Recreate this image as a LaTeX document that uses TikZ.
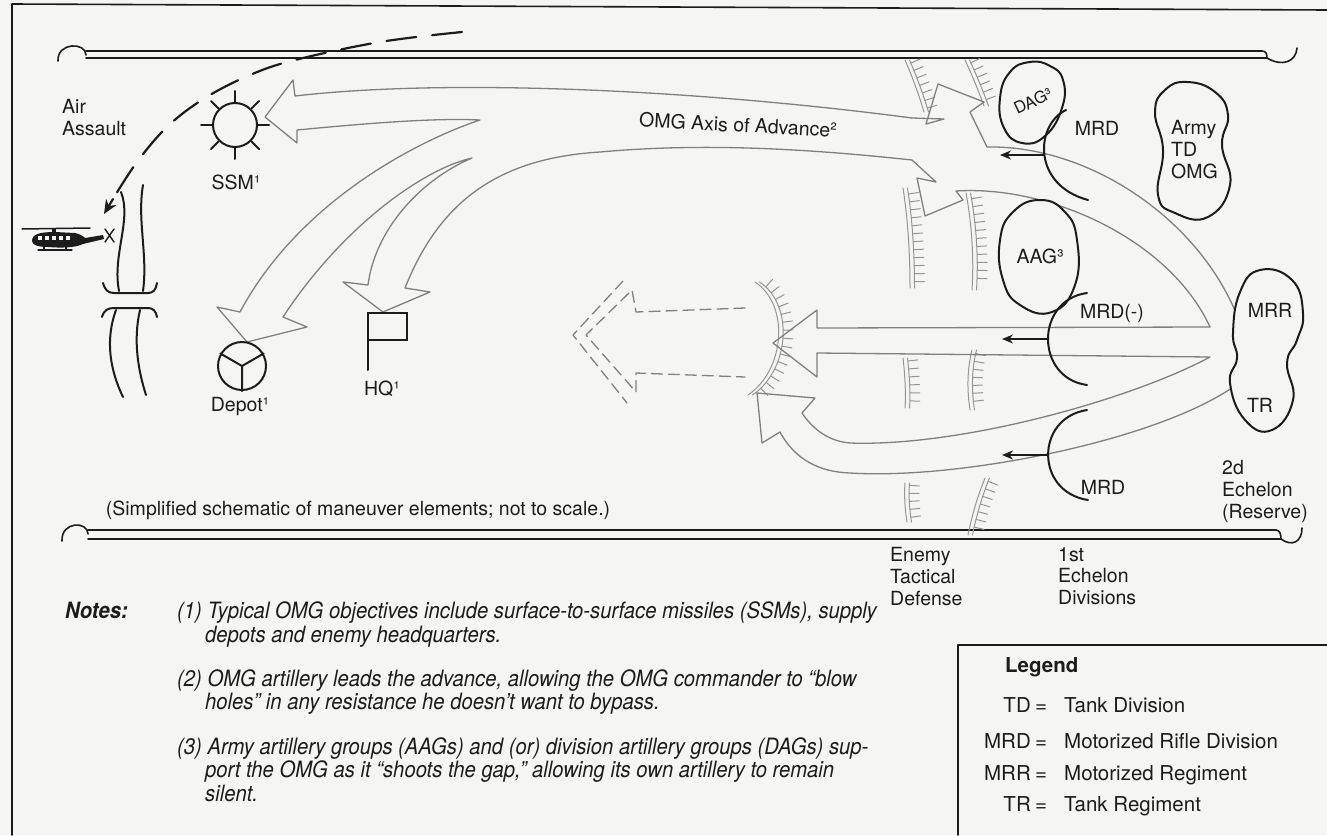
\documentclass[tikz,border=0pt]{standalone}
\usepackage{fontspec}
\setmainfont{TeX Gyre Heros}
\newfontfamily\notefont[FakeStretch=0.9]{TeX Gyre Heros}
\usetikzlibrary{arrows.meta,decorations.markings}

\definecolor{paper}{RGB}{245,245,244}
\definecolor{ink}{RGB}{28,28,28}
\definecolor{omggrey}{RGB}{128,128,128}
\definecolor{defgrey}{RGB}{150,150,150}

\newcommand{\lblfont}{\fontsize{19.5}{21.8}\selectfont}
\newcommand{\legfont}{\fontsize{20.5}{24}\selectfont}
\newcommand{\notesfont}{\notefont\itshape\fontsize{22.5}{23}\selectfont}

% double defence line with ticks on its right
\newcommand{\defseg}[4]{%
  \draw[defl] #1 .. controls #2 and #3 .. #4;
  \begin{scope}[xshift=4.5pt]
    \draw[defl, ticked] #1 .. controls #2 and #3 .. #4;
  \end{scope}}

\tikzset{
  omg/.style={draw=omggrey, line width=1.3pt},
  omgdash/.style={omg, dash pattern=on 11pt off 6pt},
  defl/.style={draw=defgrey, line width=1pt},
  ticked/.style={postaction={decorate, decoration={markings,
      mark=between positions 0.06 and 0.96 step 8pt with
      {\draw[defgrey, line width=1pt] (0pt,0pt) -- (0pt,10pt);}}}},
  unit/.style={draw=ink, line width=2pt, fill=paper},
  sym/.style={draw=ink, line width=2pt},
  thrust/.style={draw=ink, line width=2pt, -{Stealth[length=11pt, width=9pt]}},
  border/.style={draw=ink, line width=1.6pt},
  lbl/.style={font=\lblfont, text=ink, inner sep=0pt},
  leg/.style={font=\legfont, text=ink, inner sep=0pt},
  note/.style={font=\notesfont, text=ink, inner sep=0pt, anchor=base west}
}

\begin{document}
\begin{tikzpicture}[x=1pt, y=-1pt, line cap=round, line join=round]
\useasboundingbox (0,0) rectangle (1327,835);
\fill[paper] (0,0) rectangle (1327,835);

% frame and legend box
\draw[border] (12,835) -- (12,4) -- (1327,10);
\draw[border] (958,835) -- (958,645) -- (1327,645);

% boundaries
\draw[border] (58,61) .. controls (57,42) and (86,42) .. (86,55);
\draw[border] (86,51) -- (1262,51) .. controls (1266,51) and (1267,54) .. (1267,58);
\draw[border] (86,58) -- (1267,58) .. controls (1282,67) and (1296,62) .. (1297,48);
\draw[border] (62,541) .. controls (61,521) and (88,521) .. (88,534);
\draw[border] (88,530) -- (1276,530) .. controls (1280,530) and (1281,535) .. (1281,539);
\draw[border] (88,539) -- (1281,539) .. controls (1292,547) and (1302,542) .. (1302,528);

% defence lines
\defseg{(905,60)}{(912,76)}{(919,95)}{(924,112)}
\defseg{(965,60)}{(972,75)}{(979,92)}{(984,106)}
\defseg{(903,188)}{(908,220)}{(910,255)}{(910,288)}
\defseg{(966,193)}{(972,225)}{(974,260)}{(972,290)}
\defseg{(903,358)}{(905,375)}{(906,395)}{(905,408)}
\defseg{(972,350)}{(967,370)}{(967,390)}{(970,410)}
\defseg{(905,483)}{(904,495)}{(905,510)}{(907,522)}
\defseg{(985,478)}{(978,495)}{(972,515)}{(968,535)}
% breach
\defseg{(755,282)}{(790,305)}{(785,370)}{(748,395)}

% OMG axis of advance, left prongs
\draw[omg] (912,118) .. controls (700,90) and (450,78) .. (295,96)
  -- (293,80) -- (265,117) -- (297,143) -- (297,130)
  .. controls (380,122) and (440,118) .. (480,120)
  .. controls (420,140) and (300,200) .. (240,312)
  -- (217,307) -- (247,342) -- (307,327) -- (283,317)
  .. controls (340,230) and (420,170) .. (472,158)
  .. controls (420,180) and (375,230) .. (368,285)
  -- (343,282) -- (383,312) -- (430,292) -- (405,288)
  .. controls (440,200) and (500,158) .. (600,152)
  .. controls (700,143) and (800,148) .. (912,160);
% prongs in the gap and band from the reserve
\draw[omg] (912,118) -- (944,119) -- (926,124) -- (938,84) -- (984,102) -- (970,112) -- (987,147)
  .. controls (1090,145) and (1200,220) .. (1238,318);
\draw[omg] (912,160) -- (936,182) -- (917,178) -- (925,216) -- (963,200) -- (956,191)
  .. controls (1050,185) and (1170,240) .. (1210,327);
\draw[omg] (1210,327) -- (817,328) -- (817,310) -- (773,343) -- (817,377) -- (817,353)
  -- (1210,357) .. controls (1130,400) and (960,447) .. (850,443)
  .. controls (825,441) and (810,425) .. (802,413) -- (815,398) -- (757,393)
  -- (762,443) -- (780,432) .. controls (795,460) and (820,472) .. (850,473)
  .. controls (960,480) and (1160,440) .. (1236,385);
% artillery fire through the gap
\draw[omgdash] (745,308) -- (636,312) -- (632,290) -- (586,335) -- (636,392) -- (636,373) -- (745,377);
\draw[omgdash] (623,281) -- (573,335) -- (627,403);

% units
\draw[unit] plot[smooth cycle, tension=0.8] coordinates {(1030,62) (1050,66) (1063,80) (1062,108) (1045,136) (1022,143) (1004,128) (1000,98) (1010,72)};
\draw[unit] plot[smooth cycle, tension=0.8] coordinates {(1040,200) (1065,212) (1077,240) (1075,285) (1052,312) (1020,305) (1003,280) (1000,240) (1013,212)};
\draw[unit] plot[smooth cycle, tension=0.8] coordinates {(1187,82) (1215,92) (1228,115) (1222,145) (1230,185) (1208,217) (1175,213) (1158,195) (1163,150) (1155,112) (1165,90)};
\draw[unit] plot[smooth cycle, tension=0.8] coordinates {(1260,270) (1292,280) (1303,313) (1297,340) (1287,363) (1293,400) (1272,430) (1245,420) (1230,383) (1237,358) (1233,333) (1240,292)};

% first echelon divisions
\draw[sym] (1066,110) .. controls (1035,125) and (1032,185) .. (1088,200);
\draw[sym] (1087,293) .. controls (1035,300) and (1035,378) .. (1087,385);
\draw[sym] (1087,410) .. controls (1035,418) and (1035,492) .. (1088,500);
\coordinate (mrdA) at (1044,155);  \coordinate (mrdAhead) at (1000,155);
\coordinate (mrdB) at (1048,339);  \coordinate (mrdBhead) at (1002,339);
\coordinate (mrdC) at (1048,455);  \coordinate (mrdChead) at (1002,455);
\draw[thrust] (mrdA) -- (mrdAhead);
\draw[thrust] (mrdB) -- (mrdBhead);
\draw[thrust] (mrdC) -- (mrdChead);

% objectives
\node[circle, draw=ink, line width=2pt, minimum size=44pt, inner sep=0pt] (ssm) at (235,125) {};
\foreach \ang in {0,45,...,315}
  \draw[sym] (ssm.\ang) -- ++(\ang:11pt);
\node[circle, draw=ink, line width=2pt, minimum size=48pt, inner sep=0pt] (depot) at (242,366) {};
\draw[sym] (depot.150) -- (depot.center) -- (depot.30) (depot.center) -- (depot.270);
\coordinate (hqfoot) at (368,370);
\draw[sym, line join=miter] (hqfoot) -- (368,313) -- (407,313) -- (407,340) -- (368,340);

% road and crossing
\draw[sym] (121,192) .. controls (132,220) and (112,255) .. (119,291);
\draw[sym] (143,185) .. controls (137,220) and (148,255) .. (143,291);
\draw[sym] (103,283) .. controls (105,290) and (108,293) .. (114,293) -- (148,293) .. controls (153,293) and (156,290) .. (157,283);
\draw[sym] (102,317) .. controls (104,310) and (108,308) .. (114,308) -- (148,308) .. controls (153,308) and (156,311) .. (157,317);
\draw[sym] (116,310) .. controls (105,340) and (110,370) .. (123,397);
\draw[sym] (140,310) .. controls (133,340) and (138,370) .. (146,395);

% helicopter
\draw[ink, line width=1.5pt] (22,229) -- (90,228);
\fill[ink] (52,229) rectangle (56,233);
\fill[ink] (32,241) .. controls (32,234) and (40,232) .. (55,232) -- (75,233)
  .. controls (80,234) and (83,236) .. (85,238) -- (103,235) -- (104,239) -- (83,244)
  .. controls (75,248) and (60,248) .. (48,247) .. controls (38,247) and (32,245) .. (32,241) -- cycle;
\foreach \wx in {38,45,52,59,66}
  \fill[paper] (\wx,236) rectangle ++(4,4);
\draw[ink, line width=1.2pt] (38,250) -- (72,250) (44,247) -- (44,250) (66,247) -- (66,250);
\draw[ink, line width=1.4pt] (105,229) -- (114,242) (114,229) -- (105,242);

% air assault
\coordinate (airstart) at (462,32);
\coordinate (airbend) at (113,199);
\coordinate (airland) at (104,214);
\draw[ink, line width=2.2pt, dash pattern=on 30pt off 16pt]
  plot[smooth, tension=0.6] coordinates {(airstart) (380,42) (295,60) (250,75) (205,98) (168,126) (137,162) (airbend)};
\draw[ink, line width=2.2pt, -{Stealth[length=14pt, width=12pt]}] (airbend) -- (airland);

% labels
\node[lbl, align=left, anchor=north west] (airlbl) at (62,99) {Air\\Assault};
\node[lbl] (ssmlbl) at (236,182) {SSM¹};
\node[lbl] (depotlbl) at (240,407) {Depot¹};
\node[lbl] (hqlbl) at (382,389) {HQ¹};
\node[lbl, rotate=-3] (axislbl) at (738,125) {OMG Axis of Advance²};
\node[lbl, font=\fontsize{16.5}{18}\selectfont, rotate=25] (daglbl) at (1033,101) {DAG³};
\node[lbl] (aaglbl) at (1040,256) {AAG³};
\node[lbl] (mrdAlbl) at (1097,128) {MRD};
\node[lbl] (mrdBlbl) at (1112,313) {MRD(-)};
\node[lbl] (mrdClbl) at (1103,487) {MRD};
\node[lbl, align=left, anchor=north west] (omglbl) at (1171,120) {Army\\TD\\OMG};
\node[lbl] (mrrlbl) at (1270,310) {MRR};
\node[lbl] (trlbl) at (1260,405) {TR};
\node[lbl, align=left, anchor=north west] (reslbl) at (1222,460) {2d\\Echelon\\(Reserve)};
\node[lbl, align=left, anchor=north west] (deflbl) at (890,547) {Enemy\\Tactical\\Defense};
\node[lbl, align=left, anchor=north west] (echlbl) at (1058,547) {1st\\Echelon\\Divisions};
\node[lbl] (scalelbl) at (358,510) {(Simplified schematic of maneuver elements; not to scale.)};

% notes
\node[note] (noteshead) at (65,618) {\bfseries Notes:};
\node[note] (noteAa) at (177,618) {(1) Typical OMG objectives include surface-to-surface missiles (SSMs), supply};
\node[note] (noteAb) at (205,642) {depots and enemy headquarters.};
\node[note] (noteBa) at (177,686) {(2) OMG artillery leads the advance, allowing the OMG commander to “blow};
\node[note] (noteBb) at (205,709) {holes” in any resistance he doesn’t want to bypass.};
\node[note] (noteCa) at (177,754) {(3) Army artillery groups (AAGs) and (or) division artillery groups (DAGs) sup-};
\node[note] (noteCb) at (205,777) {port the OMG as it “shoots the gap,” allowing its own artillery to remain};
\node[note] (noteCc) at (205,801) {silent.};

% legend
\node[leg, anchor=base west] (legtitle) at (1005,672) {\bfseries Legend};
\foreach \abbr/\full/\yy [count=\i] in {TD/Tank Division/712, MRD/Motorized Rifle Division/748, MRR/Motorized Regiment/780, TR/Tank Regiment/811}{
  \node[leg, anchor=base east] (legabbr\i) at (1031,\yy) {\abbr};
  \node[leg, anchor=base] (legeq\i) at (1041,\yy) {=};
  \node[leg, anchor=base west] (legfull\i) at (1064,\yy) {\full};
}
\end{tikzpicture}
\end{document}
